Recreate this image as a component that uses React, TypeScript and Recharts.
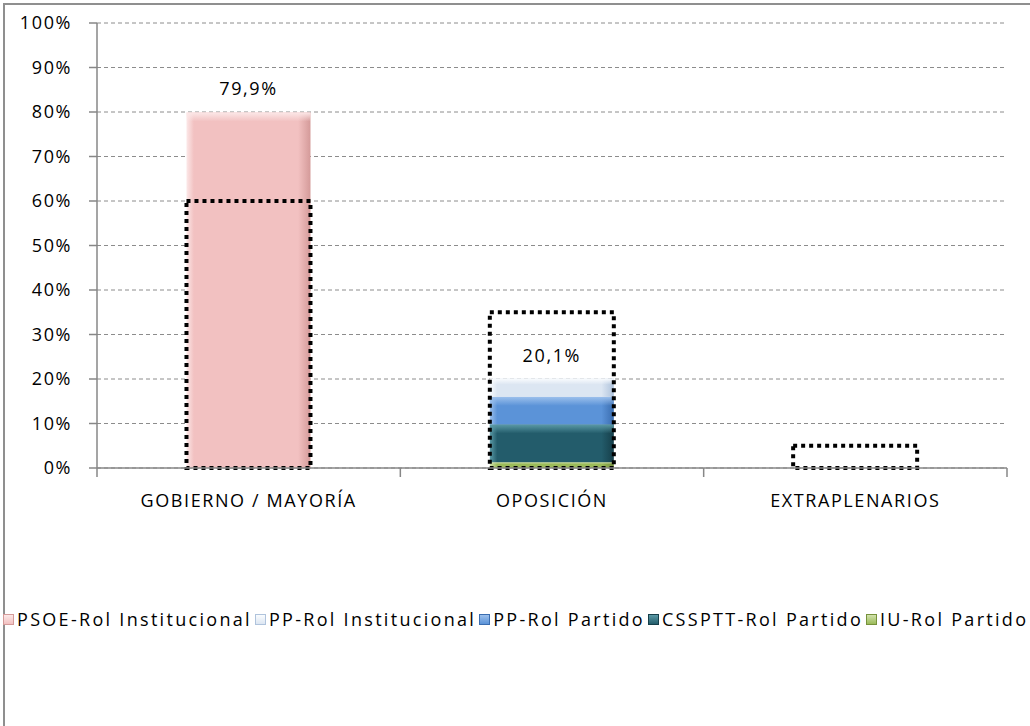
import React from 'react';
import { BarChart, Bar, XAxis, YAxis, CartesianGrid, Legend, LabelList } from 'recharts';

// ---- data ----
const categories = ['GOBIERNO / MAYORÍA', 'OPOSICIÓN', 'EXTRAPLENARIOS'];
const psoeInstitucional = [79.9, 0, 0];
const ppInstitucional = [0, 4.1, 0];
const ppPartido = [0, 6.2, 0];
const cssptPartido = [0, 8.5, 0];
const iuPartido = [0, 1.3, 0];
const referencia = [60, 35, 5];
const totalLabels: (string | null)[] = ['79,9%', '20,1%', null];
const yTicks = [0, 10, 20, 30, 40, 50, 60, 70, 80, 90, 100];

const seriesNames = {
  psoe: 'PSOE-Rol Institucional',
  ppInst: 'PP-Rol Institucional',
  ppPart: 'PP-Rol Partido',
  cssptt: 'CSSPTT-Rol Partido',
  iu: 'IU-Rol Partido',
};
const legendOrder = ['psoe', 'ppInst', 'ppPart', 'cssptt', 'iu'] as const;

const data = categories.map((category, i) => ({
  category,
  psoe: psoeInstitucional[i],
  ppInst: ppInstitucional[i],
  ppPart: ppPartido[i],
  cssptt: cssptPartido[i],
  iu: iuPartido[i],
  expected: referencia[i],
  total: totalLabels[i],
}));

// ---- styles ----
const FONT = '"Open Sans", sans-serif';
const FS = 18;
const LS = 1.6;
const LEGEND_LS = 2.3;
const AXIS = '#878787';
const colors: Record<string, { main: string; edge: string; light: string }> = {
  psoe: { main: '#F2C1C1', edge: '#D49A99', light: '#FCE8E8' },
  ppInst: { main: '#DCE6F2', edge: '#AFC3DC', light: '#FAFCFE' },
  ppPart: { main: '#5B93D8', edge: '#3A6DB0', light: '#9CC0EC' },
  cssptt: { main: '#235C6B', edge: '#163F4A', light: '#5B9AA6' },
  iu: { main: '#9BBB59', edge: '#76923C', light: '#D2E2AE' },
};

const TICK_MARGIN = 26;

const CategoryTick = (props: any) => {
  const { x, y, payload, index, visibleTicksCount } = props;
  const half = payload?.offset ?? 0;
  const axisY = y - TICK_MARGIN;
  return (
    <g>
      <line x1={x - half} x2={x - half} y1={axisY} y2={axisY + 9} stroke={AXIS} strokeWidth={1.5} />
      {index === visibleTicksCount - 1 && (
        <line x1={x + half} x2={x + half} y1={axisY} y2={axisY + 9} stroke={AXIS} strokeWidth={1.5} />
      )}
      <text
        x={x}
        y={y + 13}
        textAnchor="middle"
        fill="#000"
        style={{ fontFamily: FONT, fontSize: FS, letterSpacing: LS }}
      >
        {payload.value}
      </text>
    </g>
  );
};

const makeGlossyShape = (k: string) => (props: any) => {
  const { x, y, width, height } = props;
  if (!(height > 0)) return <g />;
  const hl = Math.min(9, height / 3);
  return (
    <g>
      <rect x={x} y={y} width={width} height={height} fill={`url(#g-${k})`} />
      <rect x={x} y={y} width={width} height={hl} fill={`url(#t-${k})`} />
    </g>
  );
};

const TotalLabel = (props: any) => {
  const { x, y, width, height, value } = props;
  if (!value || !(Math.abs(height) > 0.5)) return null;
  return (
    <text
      x={x + width / 2}
      y={y - 17}
      textAnchor="middle"
      fill="#000"
      style={{ fontFamily: FONT, fontSize: FS, letterSpacing: LS }}
    >
      {value}
    </text>
  );
};

const LegendContent = () => (
  <div
    style={{
      display: 'flex',
      alignItems: 'center',
      whiteSpace: 'nowrap',
      fontFamily: FONT,
      fontSize: FS,
      letterSpacing: LEGEND_LS,
      color: '#000',
    }}
  >
    {legendOrder.map((k) => (
      <span key={k} style={{ display: 'inline-flex', alignItems: 'center', marginRight: 3 }}>
        <span
          style={{
            display: 'inline-block',
            width: 9,
            height: 9,
            marginRight: 3,
            background: `linear-gradient(to bottom, ${colors[k].light}, ${colors[k].main})`,
            border: `1px solid ${colors[k].edge}`,
          }}
        />
        {seriesNames[k]}
      </span>
    ))}
  </div>
);

const stackOrder = ['iu', 'cssptt', 'ppPart', 'ppInst', 'psoe'] as const;

export default function App() {
  return (
    <div
      style={{
        position: 'absolute',
        left: 0,
        top: 0,
        width: 1030,
        height: 726,
        overflow: 'hidden',
        background: '#fff',
      }}
    >
      <div
        style={{
          position: 'absolute',
          left: 3,
          top: 3,
          width: 1200,
          height: 900,
          border: '2px solid #8f8f8f',
        }}
      />
      <div style={{ position: 'absolute', left: 0, top: 0 }}>
        <BarChart
          width={1030}
          height={726}
          data={data}
          margin={{ top: 23, right: 23, left: 0, bottom: 218 }}
          barCategoryGap="29.5%"
        >
          <defs>
            {Object.keys(colors).map((k) => (
              <linearGradient key={k} id={`g-${k}`} x1="0" y1="0" x2="1" y2="0">
                <stop offset="0%" stopColor={colors[k].light} />
                <stop offset="6%" stopColor={colors[k].main} />
                <stop offset="90%" stopColor={colors[k].main} />
                <stop offset="100%" stopColor={colors[k].edge} />
              </linearGradient>
            ))}
            {Object.keys(colors).map((k) => (
              <linearGradient key={`t${k}`} id={`t-${k}`} x1="0" y1="0" x2="0" y2="1">
                <stop offset="0%" stopColor={colors[k].light} stopOpacity={1} />
                <stop offset="100%" stopColor={colors[k].light} stopOpacity={0} />
              </linearGradient>
            ))}
          </defs>
          <CartesianGrid vertical={false} stroke="#8c8c8c" strokeDasharray="4 3" xAxisId="main" />
          <XAxis dataKey="category" xAxisId="exp" hide height={0} />
          <XAxis
            dataKey="category"
            xAxisId="main"
            height={40}
            tickSize={0}
            tickMargin={TICK_MARGIN}
            tickLine={false}
            axisLine={{ stroke: AXIS, strokeWidth: 1.5 }}
            tick={<CategoryTick />}
            interval={0}
          />
          <YAxis
            domain={[0, 100]}
            ticks={yTicks}
            tickFormatter={(v: number) => `${v}%`}
            width={97}
            tickSize={8}
            tickMargin={17}
            axisLine={{ stroke: AXIS, strokeWidth: 1.5 }}
            tickLine={{ stroke: AXIS, strokeWidth: 1.5 }}
            tick={{ fill: '#000', fontSize: FS, fontFamily: FONT, letterSpacing: LS }}
            interval={0}
          />
          {stackOrder.map((k) => (
            <Bar
              key={k}
              dataKey={k}
              name={seriesNames[k]}
              xAxisId="main"
              stackId="s"
              fill={colors[k].main}
              shape={makeGlossyShape(k)}
              isAnimationActive={false}
            >
              {(k === 'psoe' || k === 'ppInst') && (
                <LabelList dataKey="total" content={<TotalLabel />} />
              )}
            </Bar>
          ))}
          <Bar
            dataKey="expected"
            xAxisId="exp"
            fill="none"
            stroke="#000"
            strokeWidth={4}
            strokeDasharray="4 4"
            isAnimationActive={false}
            legendType="none"
          />
          <Legend
            layout="horizontal"
            verticalAlign="middle"
            align="center"
            content={<LegendContent />}
            wrapperStyle={{ left: 3, top: 607, width: 1200 }}
          />
        </BarChart>
      </div>
    </div>
  );
}
